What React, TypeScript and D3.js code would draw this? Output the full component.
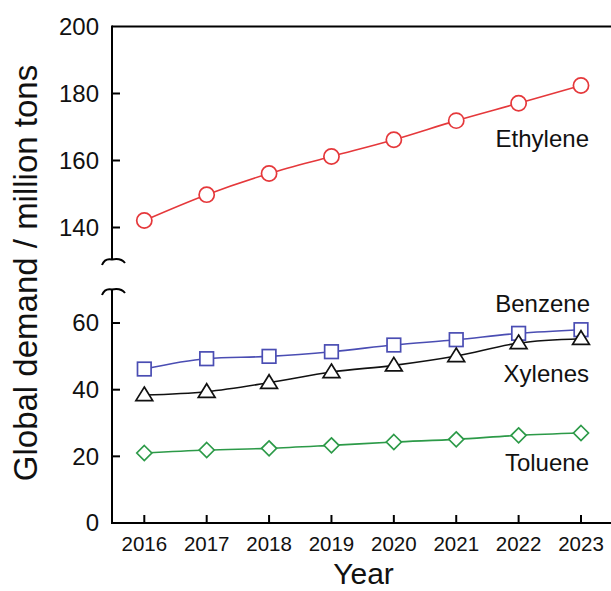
import React from "react";
import * as d3 from "d3";

const years = [2016, 2017, 2018, 2019, 2020, 2021, 2022, 2023];
const ethylene = [142.1, 149.8, 156.1, 161.2, 166.2, 171.9, 177.1, 182.4];
const benzene = [46.2, 49.3, 50.0, 51.4, 53.4, 55.0, 56.9, 58.0];
const xylenes = [38.4, 39.4, 42.1, 45.3, 47.3, 50.1, 54.0, 55.3];
const toluene = [21.0, 21.9, 22.4, 23.3, 24.3, 25.1, 26.3, 27.0];
const upperTicks = [140, 160, 180, 200];
const lowerTicks = [0, 20, 40, 60];

const FONT = "Liberation Sans, Arial, Helvetica, sans-serif";

export default function App() {
  const W = 611, H = 591;
  const axisX = 112;
  const x = d3.scaleLinear().domain([2016, 2023]).range([144.3, 581]);
  const yTop = d3.scaleLinear().domain([130, 200]).range([261, 26.5]);
  const yBot = d3.scaleLinear().domain([0, 70]).range([523, 289.7]);

  const lineTop = d3.line<number>().x((_, i) => x(years[i])).y((d) => yTop(d)).curve(d3.curveMonotoneX);
  const lineBot = d3.line<number>().x((_, i) => x(years[i])).y((d) => yBot(d)).curve(d3.curveMonotoneX);

  const red = "#e5383b", blue = "#4a4db3", green = "#2c9a48", black = "#111";

  const tri = (cx: number, cy: number) => {
    const s = 8;
    return `M${cx},${cy - s} L${cx + s * 1.05},${cy + s * 0.7} L${cx - s * 1.05},${cy + s * 0.7} Z`;
  };
  const dia = (cx: number, cy: number) => {
    const s = 7.5;
    return `M${cx},${cy - s} L${cx + s},${cy} L${cx},${cy + s} L${cx - s},${cy} Z`;
  };

  return (
    <svg width={W} height={H} style={{ position: "absolute", left: 0, top: 0, background: "#fff" }} fontFamily={FONT}>
      {/* frame lines */}
      <line x1={axisX} x2={W} y1={26.5} y2={26.5} stroke="#000" strokeWidth={2} />
      <line x1={axisX} x2={W} y1={523} y2={523} stroke="#000" strokeWidth={2} />
      <line x1={axisX} x2={axisX} y1={25.5} y2={260} stroke="#000" strokeWidth={2} />
      <line x1={axisX} x2={axisX} y1={290} y2={524} stroke="#000" strokeWidth={2} />
      {/* break marks */}
      <path d="M102,265 C104,260 108,258.5 112,259.5 C117,258.5 122,259 125,263" fill="none" stroke="#000" strokeWidth={2} />
      <path d="M102,295 C104,290 108,288.5 112,289.5 C117,288.5 122,289 125,293" fill="none" stroke="#000" strokeWidth={2} />

      {/* y ticks upper */}
      {upperTicks.map((t) => (
        <g key={"u" + t}>
          {t !== 200 && <line x1={axisX} x2={axisX + 8} y1={yTop(t)} y2={yTop(t)} stroke="#000" strokeWidth={2} />}
          <text x={99} y={yTop(t)} dy="0.35em" textAnchor="end" fontSize={24} fill="#111">{t}</text>
        </g>
      ))}
      {lowerTicks.map((t) => (
        <g key={"l" + t}>
          {t !== 0 && <line x1={axisX} x2={axisX + 8} y1={yBot(t)} y2={yBot(t)} stroke="#000" strokeWidth={2} />}
          <text x={99} y={yBot(t)} dy="0.35em" textAnchor="end" fontSize={24} fill="#111">{t}</text>
        </g>
      ))}
      {/* x ticks */}
      {years.map((yr) => (
        <g key={yr}>
          <line x1={x(yr)} x2={x(yr)} y1={523} y2={515} stroke="#000" strokeWidth={2} />
          <text x={x(yr)} y={544} dy="0.35em" textAnchor="middle" fontSize={20.5} fill="#111">{yr}</text>
        </g>
      ))}
      <text x={363.5} y={584} textAnchor="middle" fontSize={30} fill="#111">Year</text>
      <text transform="translate(37,273) rotate(-90)" textAnchor="middle" fontSize={33} fill="#111">Global demand / million tons</text>

      {/* lines */}
      <path d={lineTop(ethylene) || ""} fill="none" stroke={red} strokeWidth={1.6} />
      <path d={lineBot(benzene) || ""} fill="none" stroke={blue} strokeWidth={1.6} />
      <path d={lineBot(xylenes) || ""} fill="none" stroke={black} strokeWidth={1.6} />
      <path d={lineBot(toluene) || ""} fill="none" stroke={green} strokeWidth={1.6} />

      {/* markers */}
      {ethylene.map((v, i) => (
        <circle key={"e" + i} cx={x(years[i])} cy={yTop(v)} r={7.6} fill="#fff" stroke={red} strokeWidth={1.7} />
      ))}
      {benzene.map((v, i) => (
        <rect key={"b" + i} x={x(years[i]) - 6.8} y={yBot(v) - 6.8} width={13.6} height={13.6} fill="#fff" stroke={blue} strokeWidth={1.7} />
      ))}
      {xylenes.map((v, i) => (
        <path key={"x" + i} d={tri(x(years[i]), yBot(v))} fill="#fff" stroke={black} strokeWidth={1.7} />
      ))}
      {toluene.map((v, i) => (
        <path key={"t" + i} d={dia(x(years[i]), yBot(v))} fill="#fff" stroke={green} strokeWidth={1.7} />
      ))}

      {/* series labels */}
      <text x={589} y={147} textAnchor="end" fontSize={24} fill="#111">Ethylene</text>
      <text x={590} y={312} textAnchor="end" fontSize={24} fill="#111">Benzene</text>
      <text x={589} y={382} textAnchor="end" fontSize={24} fill="#111">Xylenes</text>
      <text x={589} y={471} textAnchor="end" fontSize={24} fill="#111">Toluene</text>
    </svg>
  );
}
